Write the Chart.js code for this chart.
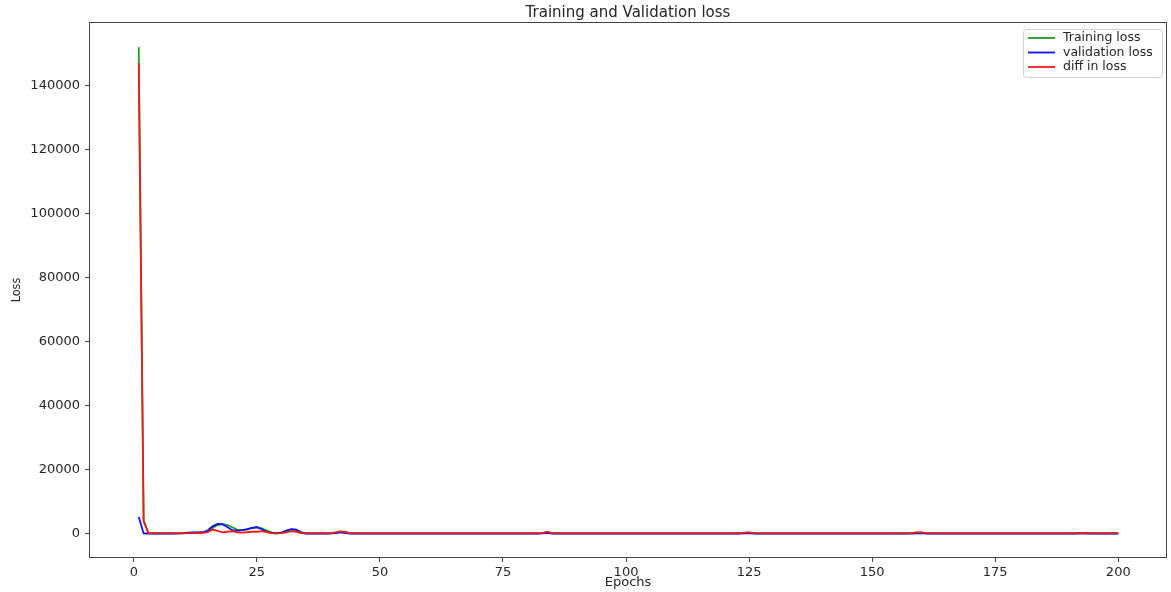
<!DOCTYPE html>
<html>
<head>
<meta charset="utf-8">
<script src="https://cdn.jsdelivr.net/npm/chart.js@4/dist/chart.umd.min.js"></script>
<style>
html,body{margin:0;padding:0;background:#fff;}
#wrap{width:1171px;height:592px;position:relative;}
</style>
</head>
<body>
<div id="wrap"><canvas id="c" width="1171" height="592"></canvas></div>
<script>
const chartTitle = "Training and Validation loss";
const xLabel = "Epochs";
const yLabel = "Loss";
const seriesNames = ["Training loss", "validation loss", "diff in loss"];
const xTicks = [0, 25, 50, 75, 100, 125, 150, 175, 200];
const yTicks = [0, 20000, 40000, 60000, 80000, 100000, 120000, 140000];

const epochs = [
  1,2,3,4,5,6,7,8,9,10,11,12,13,14,15,16,17,18,19,20,
  21,22,23,24,25,26,27,28,29,30,31,32,33,34,35,36,37,38,39,40,
  41,42,43,44,45,46,47,48,49,50,51,52,53,54,55,56,57,58,59,60,
  61,62,63,64,65,66,67,68,69,70,71,72,73,74,75,76,77,78,79,80,
  81,82,83,84,85,86,87,88,89,90,91,92,93,94,95,96,97,98,99,100,
  101,102,103,104,105,106,107,108,109,110,111,112,113,114,115,116,117,118,119,120,
  121,122,123,124,125,126,127,128,129,130,131,132,133,134,135,136,137,138,139,140,
  141,142,143,144,145,146,147,148,149,150,151,152,153,154,155,156,157,158,159,160,
  161,162,163,164,165,166,167,168,169,170,171,172,173,174,175,176,177,178,179,180,
  181,182,183,184,185,186,187,188,189,190,191,192,193,194,195,196,197,198,199,200
];

const trainingLoss = [
  152000,4200,150,90,80,80,80,80,100,140, 220,280,300,330,700,1800,2700,3000,2700,2000,
  1300,1100,1300,1700,2000,1700,1000,400,150,300, 900,1300,1200,500,100,80,80,80,80,100,
  350,600,450,100,80,80,80,80,80,80, 80,80,80,80,80,80,80,80,80,80,
  80,80,80,80,80,80,80,80,80,80, 80,80,80,80,80,80,80,80,80,80,
  80,80,150,450,120,80,80,80,80,80, 80,80,80,80,80,80,80,80,80,80,
  80,80,80,80,80,80,80,80,80,80, 80,80,80,80,80,80,80,80,80,80,
  80,80,80,250,320,120,80,80,80,80, 80,80,80,80,80,80,80,80,80,80,
  80,80,80,80,80,80,80,80,80,80, 80,80,80,80,80,80,80,150,300,350,
  110,80,80,80,80,80,80,80,80,80, 80,80,80,80,80,80,80,80,80,80,
  80,80,80,80,80,80,80,80,80,80, 80,150,250,100,80,80,80,80,80,80
];

const validationLoss = [
  5200,80,60,60,60,60,60,60,90,150, 300,380,400,450,1000,2300,3050,2950,2100,1100,
  900,1100,1400,1800,2000,1400,600,200,100,300, 1000,1400,1300,300,60,60,60,60,60,80,
  200,400,150,60,60,60,60,60,60,60, 60,60,60,60,60,60,60,60,60,60,
  60,60,60,60,60,60,60,60,60,60, 60,60,60,60,60,60,60,60,60,60,
  60,60,100,250,60,60,60,60,60,60, 60,60,60,60,60,60,60,60,60,60,
  60,60,60,60,60,60,60,60,60,60, 60,60,60,60,60,60,60,60,60,60,
  60,60,60,80,150,60,60,60,60,60, 60,60,60,60,60,60,60,60,60,60,
  60,60,60,60,60,60,60,60,60,60, 60,60,60,60,60,60,60,60,100,150,
  60,60,60,60,60,60,60,60,60,60, 60,60,60,60,60,60,60,60,60,60,
  60,60,60,60,60,60,60,60,60,60, 60,60,100,60,60,60,60,60,60,60
];

const diffLoss = [
  147000,3800,150,100,100,100,100,100,100,120, 150,200,200,250,500,1300,900,400,600,800,
  450,350,450,600,600,800,500,200,100,200, 400,800,600,200,100,100,100,100,100,100,
  400,700,500,150,100,100,100,100,100,100, 100,100,100,100,100,100,100,100,100,100,
  100,100,100,100,100,100,100,100,100,100, 100,100,100,100,100,100,100,100,100,100,
  100,100,150,650,150,100,100,100,100,100, 100,100,100,100,100,100,100,100,100,100,
  100,100,100,100,100,100,100,100,100,100, 100,100,100,100,100,100,100,100,100,100,
  100,100,100,350,400,150,100,100,100,100, 100,100,100,100,100,100,100,100,100,100,
  100,100,100,100,100,100,100,100,100,100, 100,100,100,100,100,100,100,150,400,400,
  150,100,100,100,100,100,100,100,100,100, 100,100,100,100,100,100,100,100,100,100,
  100,100,100,100,100,100,100,100,100,100, 100,150,250,100,100,100,100,100,100,100
];

const colors = ["#1f9a1f", "#1010f0", "#f01a1a"];
const seriesValues = [trainingLoss, validationLoss, diffLoss];

const AREA = {left: 89, right: 1167, top: 22, bottom: 558};
const W = 1171, H = 592;
const FONT = "'DejaVu Sans', sans-serif";
const TXT = "#262626";

const datasets = seriesNames.map((name, i) => ({
  label: name,
  data: epochs.map((e, k) => ({x: e, y: seriesValues[i][k]})),
  borderColor: colors[i],
  backgroundColor: colors[i],
  borderWidth: 1.8,
  pointRadius: 0,
  tension: 0,
  fill: false,
  order: 2 - i
}));

const decor = {
  id: 'decor',
  afterDraw(chart) {
    const ctx = chart.ctx;
    const a = chart.chartArea;
    ctx.save();
    // frame
    ctx.strokeStyle = "#444";
    ctx.lineWidth = 1;
    ctx.strokeRect(Math.round(a.left) + 0.5, Math.round(a.top) + 0.5,
                   Math.round(a.right - a.left) - 1, Math.round(a.bottom - a.top) - 1);
    // title
    ctx.fillStyle = TXT;
    ctx.font = "15px " + FONT;
    ctx.textAlign = "center";
    ctx.textBaseline = "middle";
    ctx.fillText(chartTitle, (a.left + a.right) / 2, 13);
    // x label
    ctx.font = "13px " + FONT;
    ctx.fillText(xLabel, (a.left + a.right) / 2, 583);
    // y label
    ctx.save();
    ctx.translate(17, (a.top + a.bottom) / 2);
    ctx.rotate(-Math.PI / 2);
    ctx.font = "12.5px 'DejaVu Sans Condensed', 'Liberation Sans Narrow', sans-serif";
    ctx.fillText(yLabel, 0, 0);
    ctx.restore();
    // legend
    const lx = 1023, ly = 29, lw = 139, lh = 48;
    ctx.fillStyle = "rgba(255,255,255,0.85)";
    ctx.strokeStyle = "#d0d0d0";
    ctx.lineWidth = 1;
    ctx.beginPath();
    if (ctx.roundRect) ctx.roundRect(lx + 0.5, ly + 0.5, lw, lh, 3); else ctx.rect(lx + 0.5, ly + 0.5, lw, lh);
    ctx.fill();
    ctx.stroke();
    ctx.font = "12.5px " + FONT;
    ctx.textAlign = "left";
    ctx.textBaseline = "middle";
    chart.data.datasets.forEach((ds, i) => {
      const y = 38 + i * 14.5;
      ctx.strokeStyle = ds.borderColor;
      ctx.lineWidth = 1.8;
      ctx.beginPath();
      ctx.moveTo(lx + 5, y);
      ctx.lineTo(lx + 32, y);
      ctx.stroke();
      ctx.fillStyle = TXT;
      ctx.fillText(ds.label, lx + 40, y);
    });
    ctx.restore();
  }
};

new Chart(document.getElementById('c'), {
  type: 'line',
  data: {datasets},
  options: {
    responsive: false,
    animation: false,
    layout: {padding: {left: 0, right: W - AREA.right, top: AREA.top, bottom: 0}},
    plugins: {legend: {display: false}, title: {display: false}, tooltip: {enabled: false}},
    scales: {
      x: {
        type: 'linear',
        min: -9.1,
        max: 209.9,
        afterBuildTicks(scale) { scale.ticks = xTicks.map(v => ({value: v})); },
        afterFit(scale) { scale.height = H - AREA.bottom; },
        grid: {display: true, drawOnChartArea: false, drawTicks: true, tickLength: 4, color: "#444"},
        border: {display: false},
        ticks: {color: TXT, font: {family: FONT, size: 13}, padding: 3, maxRotation: 0,
                callback: v => String(v)}
      },
      y: {
        type: 'linear',
        min: -7600,
        max: 159900,
        afterBuildTicks(scale) { scale.ticks = yTicks.map(v => ({value: v})); },
        afterFit(scale) { scale.width = AREA.left; },
        grid: {display: true, drawOnChartArea: false, drawTicks: true, tickLength: 4, color: "#444"},
        border: {display: false},
        ticks: {color: TXT, font: {family: FONT, size: 13}, padding: 5,
                callback: v => String(v)}
      }
    }
  },
  plugins: [decor]
});
</script>
</body>
</html>
